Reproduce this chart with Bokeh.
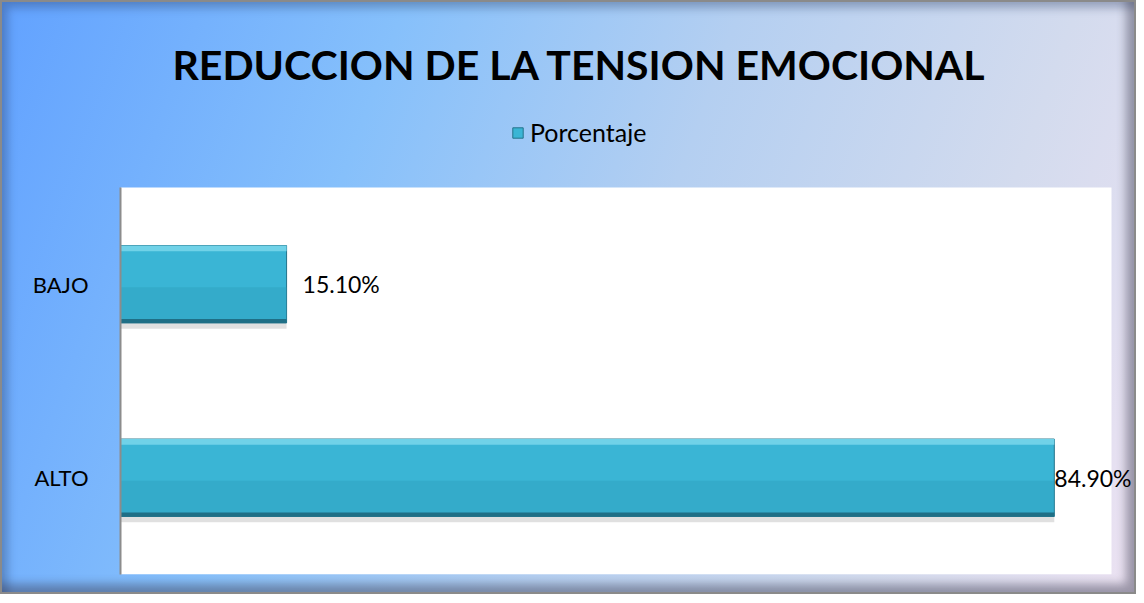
from bokeh.plotting import figure
from bokeh.models import (ColumnDataSource, Range1d, LabelSet, Legend, FixedTicker,
                          LegendItem, InlineStyleSheet, BoxAnnotation)
from bokeh.transform import dodge
from bokeh.core.properties import value
from bokeh.embed import file_html
from bokeh.resources import INLINE

# ---- data ----
categories = ["ALTO", "BAJO"]
percentages = [84.9, 15.1]
value_labels = ["84.90%", "15.10%"]
series_name = "Porcentaje"
title_text = "REDUCCION DE LA TENSION EMOCIONAL"
axis_max = 90.1

FONT = "Lato"

n = len(categories)
positions = [i + 0.5 for i in range(n)]

src = ColumnDataSource(dict(
    pos=positions,
    cat=categories,
    val=percentages,
    lab=value_labels,
    off=[0 if v > 50 else 16 for v in percentages],
))

# layout (page pixels): plot area 120..1111 x 187..574; frame extended up/right
y_end = n * (574 - 115) / (574 - 187)
p = figure(
    width=1136, height=594,
    y_range=Range1d(0, y_end),
    x_range=Range1d(0, axis_max * 1013 / 991),
    output_backend="svg", toolbar_location=None,
    min_border_left=118, min_border_right=5, min_border_top=113, min_border_bottom=22,
)

p.border_fill_alpha = 0
p.background_fill_alpha = 0
p.outline_line_color = None
p.grid.visible = False
p.xaxis.visible = False

# white plot area limited to the axis ranges
p.add_layout(BoxAnnotation(left=0, right=axis_max, bottom=0, top=n, fill_color="white",
                           fill_alpha=1, line_color=None, level="underlay"))

p.yaxis.ticker = FixedTicker(ticks=positions, minor_ticks=[])
p.yaxis.major_label_overrides = {pos: cat for pos, cat in zip(positions, categories)}
p.yaxis.bounds = (0, n)
p.yaxis.axis_line_color = "#8c8c8c"
p.yaxis.axis_line_width = 2
p.yaxis.major_tick_line_color = None
p.yaxis.minor_tick_line_color = None
p.yaxis.major_label_standoff = 26
p.yaxis.major_label_text_font = FONT
p.yaxis.major_label_text_font_size = "22px"
p.yaxis.major_label_text_color = "black"

p.title.text = title_text
p.title.align = "left"
p.title.offset = 52
p.title.standoff = 54
p.title.text_font = FONT
p.title.text_font_style = "bold"
p.title.text_font_size = "41px"
p.title.text_color = "black"

# shadow
p.hbar(y=dodge("pos", -0.03), right="val", left=0, height=0.4,
       source=src, fill_color="black", fill_alpha=0.12, line_color=None)
# main bar
main = p.hbar(y="pos", right="val", left=0, height=0.4, source=src,
              fill_color="#3ab5d5", line_color="#23738a", line_width=1)
# bevel shading
p.hbar(y=dodge("pos", -0.1), right="val", left=0, height=0.17,
       source=src, fill_color="#2f9fbd", fill_alpha=0.45, line_color=None)
p.hbar(y=dodge("pos", -0.19), right="val", left=0, height=0.02,
       source=src, fill_color="#1f6f86", line_color=None)
p.hbar(y=dodge("pos", 0.185), right="val", left=0, height=0.03,
       source=src, fill_color="#70d2e8", line_color=None)

labels = LabelSet(x="val", y="pos", text="lab", x_offset="off", source=src,
                  text_font=value(FONT), text_font_size=value("23px"), text_color="black",
                  text_baseline="middle", text_align="left")
p.add_layout(labels)

legend = Legend(items=[LegendItem(label=series_name, renderers=[main])],
                location=(391, 427), border_line_color=None,
                background_fill_alpha=0, padding=0, margin=0,
                label_text_font=FONT, label_text_font_size="25px",
                label_text_color="black",
                glyph_width=13, glyph_height=13, label_standoff=6)
p.add_layout(legend)

p.stylesheets = [InlineStyleSheet(css="""
:host {
  background: linear-gradient(110deg, #62a2ff 0%, #86c0fb 30%, #b4cff1 55%, #d3dbee 80%, #ece2f2 100%);
  border: 2px solid #8a8a8a;
  box-shadow: inset -8px -8px 10px rgba(60,60,80,0.45), inset 6px 6px 8px rgba(40,60,100,0.35);
}
""")]

open("out.html", "w").write(file_html(p, INLINE))
